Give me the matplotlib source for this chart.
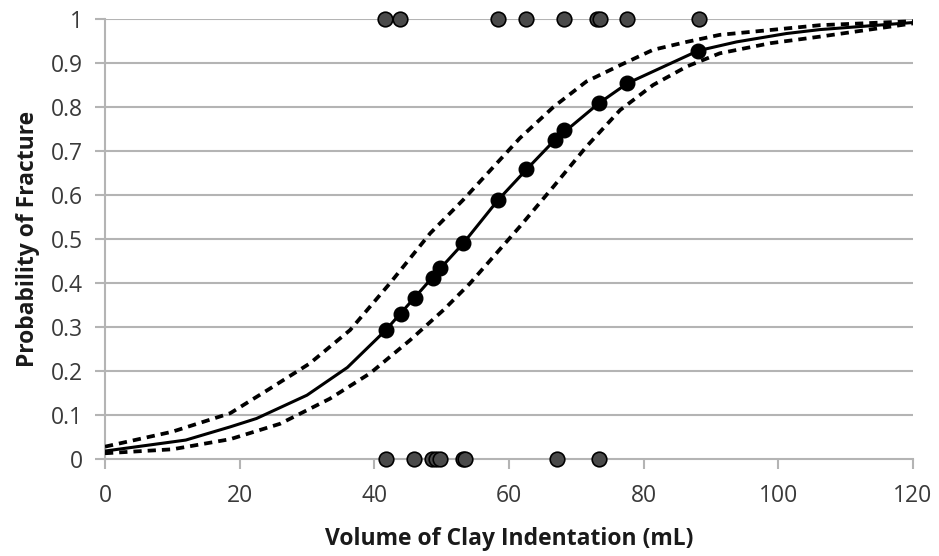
import matplotlib
matplotlib.use("Agg")
import matplotlib.pyplot as plt

# observed outcomes (1 = fracture, 0 = no fracture)
fracture_x = [41.6, 43.8, 58.4, 62.6, 68.2, 73.0, 73.5, 77.6, 88.2]
no_fracture_x = [41.7, 45.9, 48.6, 49.2, 49.8, 53.1, 53.5, 67.1, 73.4]

# fitted probability at each observed volume
fit_x = [41.7, 43.9, 46.0, 48.7, 49.8, 53.2, 58.4, 62.6, 66.8, 68.2, 73.3, 77.6, 88.1]
fit_p = [0.293, 0.330, 0.367, 0.411, 0.433, 0.490, 0.589, 0.658, 0.725, 0.748, 0.808, 0.854, 0.928]

# fitted curve
curve_x = [0, 12, 18.6, 22.5, 30, 36, 40.3, 41.7, 46.0, 49.8, 53.2, 58.4, 62.6, 66.8,
           73.3, 77.6, 88.1, 93.8, 101.2, 106.2, 120]
curve_p = [0.018, 0.043, 0.073, 0.092, 0.145, 0.208, 0.272, 0.293, 0.367, 0.433, 0.490,
           0.589, 0.658, 0.725, 0.808, 0.854, 0.928, 0.948, 0.967, 0.976, 0.992]

# 95% confidence bounds
upper_x = [0, 10, 18.6, 24.5, 30.4, 36.4, 42.3, 48.3, 53.2, 61.6, 66.6, 71.5, 76.5,
           81.4, 86.4, 91.3, 98.8, 106.2, 120]
upper_p = [0.028, 0.062, 0.104, 0.160, 0.217, 0.293, 0.399, 0.513, 0.589, 0.729, 0.800,
           0.858, 0.895, 0.930, 0.948, 0.964, 0.975, 0.986, 0.995]
lower_x = [0, 10, 18.6, 26, 33.4, 39.4, 45.3, 50.3, 54.2, 61.6, 66.6, 71.5, 76.5,
           81.4, 86.4, 91.3, 98.8, 106.2, 120]
lower_p = [0.013, 0.022, 0.045, 0.080, 0.137, 0.195, 0.270, 0.339, 0.399, 0.528, 0.619,
           0.710, 0.793, 0.850, 0.892, 0.922, 0.945, 0.960, 0.990]

x_ticks = [0, 20, 40, 60, 80, 100, 120]
y_ticks = [0, 0.1, 0.2, 0.3, 0.4, 0.5, 0.6, 0.7, 0.8, 0.9, 1.0]
y_labels = ["0", "0.1", "0.2", "0.3", "0.4", "0.5", "0.6", "0.7", "0.8", "0.9", "1"]

plt.rcParams['font.family'] = ['Open Sans', 'DejaVu Sans']

fig = plt.figure(figsize=(9.39, 5.56), dpi=100)
ax = fig.add_axes([0.1118, 0.1745, 0.8605, 0.7913])

grid_c = '#b4b4b4'
for y in y_ticks[1:]:
    ax.axhline(y, color=grid_c, linewidth=1.5, zorder=1)

ax.plot(upper_x, upper_p, color='black', linestyle=(0, (2.2, 1.6)), linewidth=2.7, zorder=3)
ax.plot(lower_x, lower_p, color='black', linestyle=(0, (2.2, 1.6)), linewidth=2.7, zorder=3)
ax.plot(curve_x, curve_p, color='black', linewidth=2.2, zorder=3)
ax.plot(fit_x, fit_p, 'o', color='black', markersize=10.5, zorder=4)

ax.plot(fracture_x, [1] * len(fracture_x), 'o', markerfacecolor='#4a4a4a',
        markeredgecolor='black', markeredgewidth=1.2, markersize=10.5, zorder=5, clip_on=False)
ax.plot(no_fracture_x, [0] * len(no_fracture_x), 'o', markerfacecolor='#4a4a4a',
        markeredgecolor='black', markeredgewidth=1.2, markersize=10.5, zorder=5, clip_on=False)

ax.set_xlim(0, 120)
ax.set_ylim(0, 1)
ax.set_xticks(x_ticks)
ax.set_yticks(y_ticks)
ax.set_yticklabels(y_labels)

for s in ['top', 'right']:
    ax.spines[s].set_visible(False)
for s in ['left', 'bottom']:
    ax.spines[s].set_color(grid_c)
    ax.spines[s].set_linewidth(1.5)
    ax.spines[s].set_zorder(2)

ax.tick_params(axis='both', direction='out', length=7, width=1.5, color=grid_c,
               labelsize=16.5, labelcolor='#3a3a3a')
ax.tick_params(axis='x', pad=11)
ax.tick_params(axis='y', pad=9)

ax.set_xlabel('Volume of Clay Indentation (mL)', fontsize=16.5, fontweight='bold',
              color='#1a1a1a', labelpad=14)
ax.set_ylabel('Probability of Fracture', fontsize=16.5, fontweight='bold',
              color='#1a1a1a', labelpad=8)

fig.savefig('out.png', dpi=100)
